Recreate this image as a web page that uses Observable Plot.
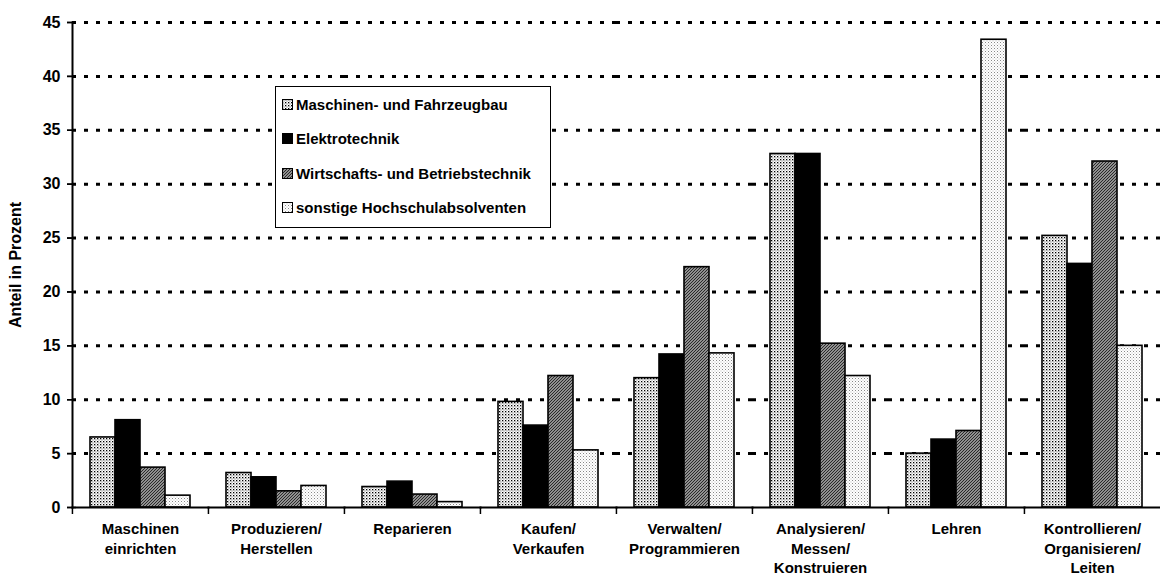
<!DOCTYPE html>
<html>
<head>
<meta charset="utf-8">
<script src="https://cdn.jsdelivr.net/npm/d3@7"></script>
<script src="https://cdn.jsdelivr.net/npm/@observablehq/plot@0.6"></script>
<style>
  html, body { margin: 0; padding: 0; background: #fff; }
  body { font-family: "Liberation Sans", Arial, sans-serif; }
  #chart { position: relative; width: 1160px; height: 584px; }
  #legend {
    position: absolute; left: 275px; top: 86px; width: 276px; height: 142px;
    border: 1px solid #000; background: #fff; box-sizing: border-box;
    font: bold 15px "Liberation Sans", Arial, sans-serif; color: #000;
    padding: 0 0 0 6px;
  }
  #legend .item { display: flex; align-items: center; height: 34.5px; white-space: nowrap; }
  #legend svg { margin-right: 3px; }
</style>
</head>
<body>
<svg width="0" height="0" style="position:absolute">
  <defs>
    <pattern id="p1" width="3" height="3" patternUnits="userSpaceOnUse">
      <rect width="3" height="3" fill="#fff"/>
      <rect x="0" y="0" width="1.3" height="1.3" fill="#000"/>
      <rect x="1.5" y="1.5" width="1" height="1" fill="#555"/>
    </pattern>
    <pattern id="p3" width="3" height="3" patternUnits="userSpaceOnUse">
      <rect width="3" height="3" fill="#909090"/>
      <path d="M0,3 L3,0 M-1,1 L1,-1 M2,4 L4,2" stroke="#2a2a2a" stroke-width="1"/>
    </pattern>
    <pattern id="p4" width="3" height="3" patternUnits="userSpaceOnUse">
      <rect width="3" height="3" fill="#fff"/>
      <rect x="0" y="0" width="1" height="1" fill="#888"/>
      <rect x="1.5" y="1.5" width="1" height="1" fill="#bbb"/>
    </pattern>
  </defs>
</svg>
<div id="chart"></div>
<script>
const categories = [
  "Maschinen\neinrichten",
  "Produzieren/\nHerstellen",
  "Reparieren",
  "Kaufen/\nVerkaufen",
  "Verwalten/\nProgrammieren",
  "Analysieren/\nMessen/\nKonstruieren",
  "Lehren",
  "Kontrollieren/\nOrganisieren/\nLeiten"
];
const series = [
  "Maschinen- und Fahrzeugbau",
  "Elektrotechnik",
  "Wirtschafts- und Betriebstechnik",
  "sonstige Hochschulabsolventen"
];
const maschinenbau = [6.5, 3.2, 1.9, 9.8, 12.0, 32.8, 5.0, 25.2];
const elektrotechnik = [8.1, 2.8, 2.4, 7.6, 14.2, 32.8, 6.3, 22.6];
const wirtschaft = [3.7, 1.5, 1.2, 12.2, 22.3, 15.2, 7.1, 32.1];
const sonstige = [1.1, 2.0, 0.5, 5.3, 14.3, 12.2, 43.4, 15.0];
const yTicks = [0, 5, 10, 15, 20, 25, 30, 35, 40, 45];
const fills = ["url(#p1)", "#000", "url(#p3)", "url(#p4)"];

const seriesValues = [maschinenbau, elektrotechnik, wirtschaft, sonstige];
const data = categories.flatMap((c, i) =>
  series.map((s, j) => ({category: c, series: s, value: seriesValues[j][i]}))
);

const W = 1160, H = 584, ML = 71, MR = 0;
const step = (W - ML - MR) / categories.length;
const font = "Liberation Sans, Arial, sans-serif";

const chart = Plot.plot({
  width: W, height: H,
  marginLeft: ML, marginRight: MR, marginTop: 22, marginBottom: 77,
  style: {fontFamily: font, fontWeight: "bold", fontSize: "15px", color: "#000", background: "transparent", overflow: "visible"},
  fx: {domain: categories, paddingInner: 0, paddingOuter: 0, label: null},
  x: {domain: series, paddingInner: 0, paddingOuter: 0.72, axis: null},
  y: {domain: [0, 45], label: null},
  color: {domain: series, range: fills},
  marks: [
    Plot.gridY(yTicks.filter(d => d > 0), {stroke: "#000", strokeOpacity: 1, strokeWidth: 3, strokeDasharray: "4,8"}),
    Plot.barY(data, {fx: "category", x: "series", y: "value", fill: "series", stroke: "#000", strokeWidth: 1.6}),
    Plot.frame({anchor: "bottom", stroke: "#000", strokeWidth: 2}),
    Plot.frame({anchor: "left", facetAnchor: "left", stroke: "#000", strokeWidth: 2}),
    Plot.axisY(yTicks, {tickSize: 5, tickPadding: 7, fontSize: 16, strokeWidth: 1.5,
      label: "Anteil in Prozent", labelAnchor: "center", labelArrow: "none", labelOffset: 63}),
    Plot.axisY(yTicks, {tickSize: 9, dx: 4, tickFormat: () => "", strokeWidth: 1.5, label: null}),
    Plot.axisFx({anchor: "bottom", tickSize: 0, tickPadding: 13, lineHeight: 1.3, fontSize: 15, label: null}),
    Plot.axisFx({anchor: "bottom", tickSize: 7, tickFormat: () => "", dx: -step / 2, strokeWidth: 1.5, label: null})
  ]
});
document.getElementById("chart").append(chart);

const legend = document.createElement("div");
legend.id = "legend";
series.forEach((s, j) => {
  const item = document.createElement("div");
  item.className = "item";
  item.innerHTML = `<svg width="11" height="11"><rect x="0.5" y="0.5" width="10" height="10" fill="${fills[j]}" stroke="#000" stroke-width="1"/></svg><span>${s}</span>`;
  legend.append(item);
});
document.getElementById("chart").append(legend);
</script>
</body>
</html>
